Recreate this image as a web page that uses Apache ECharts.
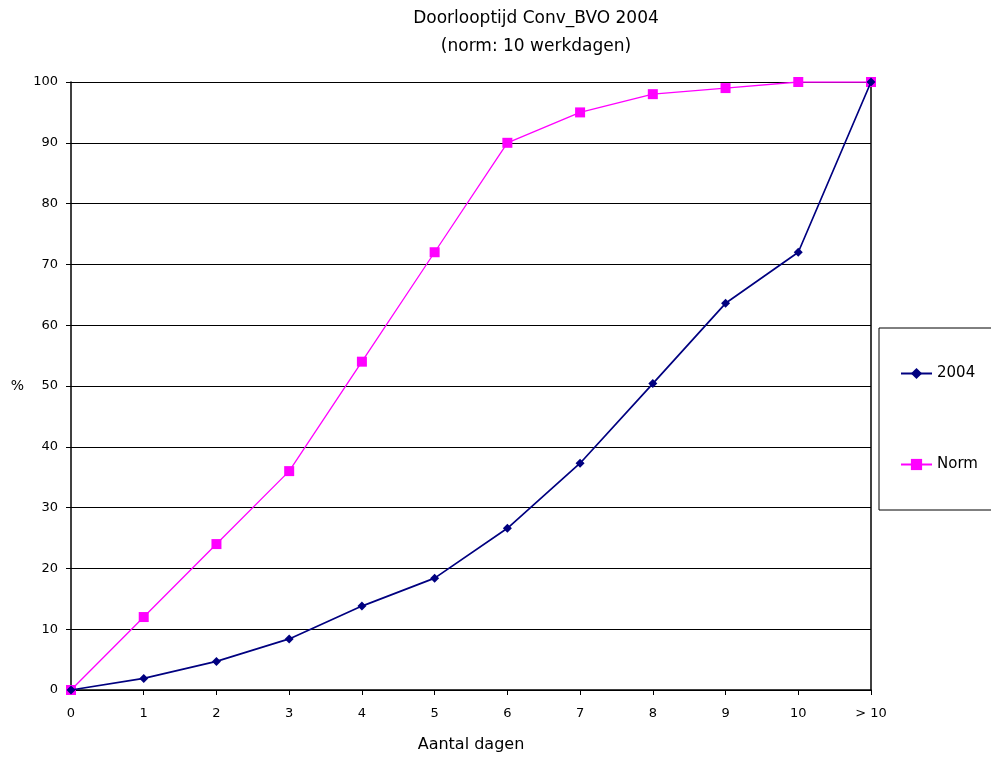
<!DOCTYPE html>
<html>
<head>
<meta charset="utf-8">
<script src="https://cdn.jsdelivr.net/npm/echarts@6/dist/echarts.min.js"></script>
<style>html,body{margin:0;padding:0;background:#fff;}#c{width:991px;height:758px;}</style>
</head>
<body>
<div id="c"></div>
<script>
var categories = ['0','1','2','3','4','5','6','7','8','9','10','> 10'];
var series2004 = [0, 1.9, 4.7, 8.4, 13.8, 18.4, 26.6, 37.3, 50.4, 63.6, 72, 100];
var seriesNorm = [0, 12, 24, 36, 54, 72, 90, 95, 98, 99, 100, 100];
var titleLines = ['Doorlooptijd Conv_BVO 2004', '(norm: 10 werkdagen)'];

var chart = echarts.init(document.getElementById('c'));
var font = '"DejaVu Sans", Verdana, sans-serif';
chart.setOption({
  animation: false,
  backgroundColor: '#fff',
  graphic: [
    {type:'text', x: 536, y: 10, style:{text: titleLines[0], font:'17px "DejaVu Sans", sans-serif', fill:'#000', textAlign:'center'}},
    {type:'text', x: 536, y: 38, style:{text: titleLines[1], font:'17px "DejaVu Sans", sans-serif', fill:'#000', textAlign:'center'}}
  ],
  grid: {left: 71, top: 82, width: 800, height: 608, containLabel: false, outerBoundsMode: 'none'},
  legend: {
    orient: 'vertical', left: 879, top: 328,
    padding: [38, 60, 38, 21],
    itemGap: 76, itemWidth: 31, itemHeight: 14,
    borderColor: '#000', borderWidth: 1,
    textStyle: {fontFamily: font, fontSize: 15, color: '#000'},
    data: ['2004', 'Norm']
  },
  xAxis: {
    type: 'category', data: categories, boundaryGap: false,
    name: 'Aantal dagen', nameLocation: 'middle', nameGap: 47,
    nameTextStyle: {fontFamily: font, fontSize: 16, color: '#000'},
    axisLine: {lineStyle: {color: '#000', width: 1.5}},
    axisTick: {show: true, length: 5, lineStyle: {color:'#000'}, alignWithLabel: true},
    axisLabel: {fontFamily: font, fontSize: 13, color: '#000', margin: 17, interval: 0},
    splitLine: {show: false}
  },
  yAxis: [{
    type: 'value', min: 0, max: 100, interval: 10,
    name: '%', nameLocation: 'middle', nameGap: 47, nameRotate: 0,
    nameTextStyle: {fontFamily: font, fontSize: 14, color: '#000'},
    axisLine: {show: true, lineStyle: {color: '#000', width: 1.5}},
    axisTick: {show: true, length: 5, lineStyle: {color:'#000'}},
    axisLabel: {fontFamily: font, fontSize: 13, color: '#000', margin: 13},
    splitLine: {show: true, lineStyle: {color: '#000', width: 1.2}}
  },{
    type: 'value', min: 0, max: 100, interval: 10, position: 'right',
    axisLine: {show: true, lineStyle: {color: '#000', width: 1.5}},
    axisTick: {show: false}, axisLabel: {show: false}, splitLine: {show: false}
  }],
  series: [
    {
      name: '2004', type: 'line', data: series2004,
      symbol: 'diamond', symbolSize: 9,
      lineStyle: {color: '#000080', width: 1.7},
      itemStyle: {color: '#000080'}, z: 3
    },
    {
      name: 'Norm', type: 'line', data: seriesNorm,
      symbol: 'rect', symbolSize: 10,
      lineStyle: {color: '#FF00FF', width: 1.3},
      itemStyle: {color: '#FF00FF'}, z: 2
    }
  ]
});
</script>
</body>
</html>
